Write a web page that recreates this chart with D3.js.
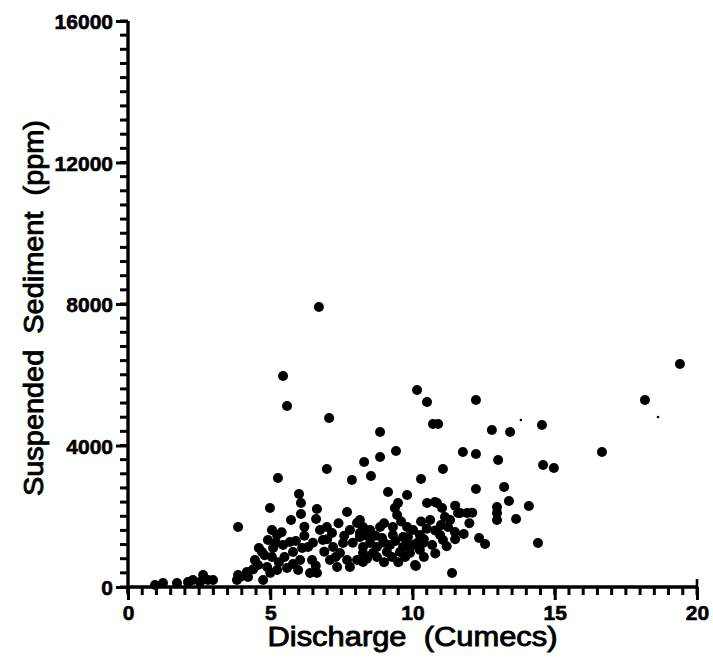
<!DOCTYPE html>
<html>
<head>
<meta charset="utf-8">
<script src="https://cdn.jsdelivr.net/npm/d3@7"></script>
<style>
  body { margin: 0; background: #fff; }
  .chart-container { width: 713px; height: 658px; }
  text { font-family: "Liberation Sans", Arial, sans-serif; fill: #000; }
</style>
</head>
<body>
<div class="chart-container"></div>
<script>
// discharge (cumecs) vs suspended sediment (ppm)
const xTicks = [0, 5, 10, 15, 20];
const yTicks = [0, 4000, 8000, 12000, 16000];

const outliers = [
    [6.71, 7916], [5.45, 5965], [5.59, 5117], [7.07, 4778], [8.86, 4382],
    [10.16, 5569], [10.51, 5230], [10.72, 4608], [10.90, 4608], [12.23, 5286],
    [12.79, 4438], [13.43, 4382], [14.55, 4580], [18.17, 5286], [19.40, 6304],
    [16.66, 3816], [11.77, 3816], [12.23, 3760], [13.01, 3590], [14.59, 3449],
    [14.97, 3364], [11.07, 3336], [10.30, 3053], [12.23, 2770], [13.22, 2827],
    [13.39, 2431], [14.09, 2290], [13.64, 1922], [12.97, 2262], [12.97, 2092],
    [12.97, 1894], [14.41, 1244], [11.39, 396], [9.81, 2601], [10.12, 594],
    [11.60, 2092], [11.92, 2092], [12.34, 1385], [12.55, 1216], [11.49, 1555],
    [6.99, 3336], [5.27, 3081], [4.99, 2233], [3.87, 1696], [6.01, 2629],
    [6.08, 2375], [6.08, 2064], [5.73, 1894], [6.64, 2205], [6.61, 1922],
    [7.87, 3025], [8.30, 3534], [8.54, 3138], [8.86, 3675], [9.42, 3845],
    [9.14, 2686], [7.70, 2120]
];

const cluster = [
    [5.06, 1611], [5.24, 1470], [4.92, 1329], [5.10, 1103], [5.06, 848],
    [5.45, 1187], [5.69, 1272], [5.80, 989], [6.12, 1103], [6.33, 1131],
    [6.05, 763], [6.47, 763], [6.75, 1611], [6.99, 1696], [7.17, 1527],
    [6.85, 1329], [7.21, 1131], [7.56, 1244], [7.45, 961], [7.10, 763],
    [7.35, 565], [7.80, 1611], [8.05, 1809], [8.15, 1414], [8.26, 1131],
    [8.05, 763], [7.70, 763], [8.26, 1696], [4.46, 763], [4.18, 424],
    [4.89, 565], [5.24, 481], [5.59, 537], [5.98, 481], [6.40, 396],
    [6.64, 396], [3.94, 283], [4.75, 198], [4.71, 989], [4.57, 622],
    [7.80, 565],
    [4.60, 1100], [4.80, 900], [5.30, 700], [5.50, 850], [5.90, 1300],
    [6.20, 1450], [6.50, 1250], [6.90, 1000], [7.30, 850], [7.60, 1450],
    [7.90, 1250], [6.60, 600], [5.80, 650], [5.00, 400], [4.40, 500],
    [6.20, 1700], [7.40, 1800], [7.00, 1350], [5.40, 1550], [5.20, 1250],
    [9.49, 2375], [9.38, 2233], [9.46, 2035], [10.51, 2375], [10.79, 2403],
    [11.04, 2233], [11.14, 1979], [10.62, 1894], [11.67, 2092], [11.25, 1696],
    [10.97, 1470], [11.07, 1329], [8.15, 1527], [8.51, 1611], [8.86, 1696],
    [9.31, 1696], [9.81, 1696], [10.02, 1611], [10.26, 1470], [8.93, 1385],
    [9.31, 1470], [9.84, 1414], [8.51, 1244], [8.75, 1131], [9.21, 1187],
    [9.67, 1131], [10.02, 1187], [10.37, 1244], [10.69, 1187], [8.26, 961],
    [8.61, 961], [9.10, 989], [9.56, 989], [9.91, 961], [10.26, 1046],
    [8.26, 707], [8.75, 848], [9.28, 848], [9.74, 848], [10.09, 622],
    [8.15, 1894], [9.67, 1414], [9.91, 1131], [10.16, 1244], [11.32, 1894],
    [10.86, 2375],
    [8.40, 1450], [8.70, 1450], [9.00, 1250], [9.40, 1300], [9.80, 1250],
    [10.40, 1350], [10.50, 1650], [10.80, 1600], [11.00, 1750], [10.30, 1850],
    [9.60, 1850], [9.00, 1800], [8.40, 800], [9.00, 700], [9.50, 700],
    [10.40, 850], [10.80, 950], [11.20, 1150], [11.50, 1350], [11.80, 1500],
    [12.00, 1800], [11.50, 2300], [12.10, 2100]
];

const lowFlow = [
    [0.95, 57], [1.23, 113], [1.72, 113], [2.11, 141], [2.28, 198],
    [2.64, 339], [2.81, 198], [2.99, 198], [2.53, 141], [3.83, 198],
    [3.87, 339], [4.22, 283]
];

const specks = [[13.81, 4721], [18.63, 4806]];

const xMinorTicks = d3.range(0, 20.01, 0.5);
const yMinorTicks = d3.range(0, 16001, 400);

const points = outliers.concat(cluster, lowFlow);

const width = 713, height = 658;
const margin = {top: 21, right: 16, bottom: 71, left: 128};

const svg = d3.select(".chart-container").append("svg")
    .attr("width", width)
    .attr("height", height);

const x = d3.scaleLinear().domain([0, 20]).range([margin.left, width - margin.right]);
const y = d3.scaleLinear().domain([0, 16000]).range([height - margin.bottom, margin.top]);

// points
svg.append("g")
    .selectAll("circle")
    .data(points)
    .enter().append("circle")
    .attr("cx", d => x(d[0]))
    .attr("cy", d => y(d[1]))
    .attr("r", 5)
    .style("fill", "#000");

svg.append("g")
    .selectAll("circle")
    .data(specks)
    .enter().append("circle")
    .attr("cx", d => x(d[0]))
    .attr("cy", d => y(d[1]))
    .attr("r", 1.3)
    .style("fill", "#000");

// minor ticks
svg.append("g")
    .selectAll("line")
    .data(xMinorTicks)
    .enter().append("line")
    .attr("x1", d => x(d)).attr("x2", d => x(d))
    .attr("y1", y(0)).attr("y2", y(0) + 8)
    .style("stroke", "#000").style("stroke-width", 3);

svg.append("g")
    .selectAll("line")
    .data(yMinorTicks)
    .enter().append("line")
    .attr("x1", x(0) - 8).attr("x2", x(0))
    .attr("y1", d => y(d)).attr("y2", d => y(d))
    .style("stroke", "#000").style("stroke-width", 3);

// major ticks with labels
const xMajor = d3.axisBottom(x).tickValues(xTicks).tickSize(13).tickPadding(0).tickFormat(d3.format("d"));
const yMajor = d3.axisLeft(y).tickValues(yTicks).tickSize(12).tickPadding(3).tickFormat(d3.format("d"));

function styleAxis(g) {
    g.select(".domain").remove();
    g.selectAll("line").style("stroke", "#000").style("stroke-width", 3);
}

const gx = svg.append("g").attr("transform", `translate(0,${y(0)})`).call(xMajor).call(styleAxis);
const gy = svg.append("g").attr("transform", `translate(${x(0)},0)`).call(yMajor).call(styleAxis);

gx.selectAll("text")
    .attr("dy", "0.95em")
    .style("font-size", "21px")
    .style("font-weight", "bold")
    .style("stroke", "#000").style("stroke-width", 0.6);
gy.selectAll("text")
    .attr("dy", "0.36em")
    .style("font-size", "21px")
    .style("font-weight", "bold")
    .style("stroke", "#000").style("stroke-width", 0.6);

// axis lines
svg.append("line")
    .attr("x1", x(0)).attr("x2", x(20))
    .attr("y1", y(0)).attr("y2", y(0))
    .style("stroke", "#000").style("stroke-width", 3.4);
svg.append("line")
    .attr("x1", x(0)).attr("x2", x(0))
    .attr("y1", y(0) + 6).attr("y2", y(16000))
    .style("stroke", "#000").style("stroke-width", 3.4);
svg.append("line")
    .attr("x1", x(20)).attr("x2", x(20))
    .attr("y1", y(0) - 8).attr("y2", y(0))
    .style("stroke", "#000").style("stroke-width", 2.6);

// titles
svg.append("text")
    .attr("x", (x(0) + x(20)) / 2)
    .attr("y", 646)
    .attr("text-anchor", "middle")
    .attr("textLength", 290)
    .attr("lengthAdjust", "spacingAndGlyphs")
    .style("font-size", "27px")
    .style("stroke", "#000").style("stroke-width", 0.9)
    .text("Discharge\u00a0\u00a0(Cumecs)");

svg.append("text")
    .attr("transform", `translate(43,${(120 + 496) / 2}) rotate(-90)`)
    .attr("text-anchor", "middle")
    .attr("textLength", 376)
    .attr("lengthAdjust", "spacingAndGlyphs")
    .style("font-size", "27px")
    .style("stroke", "#000").style("stroke-width", 0.9)
    .text("Suspended\u00a0\u00a0Sediment\u00a0\u00a0(ppm)");
</script>
</body>
</html>
